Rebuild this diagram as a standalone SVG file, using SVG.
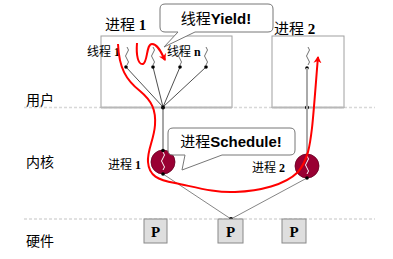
<svg xmlns="http://www.w3.org/2000/svg" width="393" height="259" viewBox="0 0 393 259">
<style>
.cjk{font-family:"Liberation Serif","Noto Sans CJK SC",serif;fill:#000}
.b{font-family:"Liberation Serif",serif;font-weight:bold}
.bs{font-family:"Liberation Sans",Arial,sans-serif;font-weight:bold}
.sep{stroke:#d8d8d8;stroke-width:1.5;stroke-dasharray:3,2;fill:none}
.box{fill:none;stroke:#a0a0a0;stroke-width:1}
.bot{stroke:#b8b8b8;stroke-width:2}
.thin{stroke:#222;stroke-width:0.8;fill:none}
.gl{stroke:#666;stroke-width:0.8;fill:none}
.sq{stroke:#333;stroke-width:0.7;fill:none}
.red{stroke:#ff0000;stroke-width:2;fill:none}
.kt{fill:#990033;stroke:#660022;stroke-width:0.8}
.kw{stroke:#fff;stroke-width:1;fill:none}
.pb{fill:#dedede;stroke:#888;stroke-width:1}
.call{fill:#fff;stroke:#777;stroke-width:1}
</style>
<defs>
<marker id="ah" markerWidth="8" markerHeight="8" refX="6" refY="4" orient="auto" markerUnits="userSpaceOnUse">
<path d="M0,0 L7,4 L0,8 L2,4 Z" fill="#ff0000"/>
</marker>
<path id="sqp" d="M0,0 q3,3 0,6 q-3,3 0,6 q3,3 0,6" />
</defs>
<rect width="393" height="259" fill="#fff"/>

<g id="layers">
<line class="sep" x1="24" y1="107.5" x2="375" y2="107.5"/>
<line class="sep" x1="24" y1="219" x2="375" y2="219"/>
<text class="cjk" x="26" y="105" font-size="14">用户</text>
<text class="cjk" x="26" y="167" font-size="14">内核</text>
<text class="cjk" x="26" y="246" font-size="14">硬件</text>
</g>

<g id="process1">
<rect class="box" x="101" y="36" width="131" height="71.5"/>
<line class="bot" x1="101" y1="107.5" x2="232" y2="107.5"/>
<text class="cjk" x="105" y="30" font-size="15">进程 <tspan class="b">1</tspan></text>
<text class="cjk" x="87" y="56" font-size="12">线程 <tspan class="b">1</tspan></text>
<text class="cjk" x="167" y="56" font-size="12">线程 <tspan class="b">n</tspan></text>
<use href="#sqp" class="sq" x="127" y="47"/>
<use href="#sqp" class="sq" x="153" y="47"/>
<use href="#sqp" class="sq" x="180" y="47"/>
<use href="#sqp" class="sq" x="206" y="47"/>
<line class="thin" x1="126" y1="67" x2="163" y2="107"/>
<line class="thin" x1="153" y1="67" x2="163" y2="107"/>
<line class="thin" x1="180" y1="67" x2="163" y2="107"/>
<line class="thin" x1="206" y1="67" x2="163" y2="107"/>
<circle cx="126" cy="67" r="1.8"/>
<circle cx="153" cy="67" r="1.8"/>
<circle cx="180" cy="67" r="1.8"/>
<circle cx="206" cy="67" r="1.8"/>
<circle cx="163" cy="107.5" r="2"/>
</g>

<g id="process2">
<rect class="box" x="272" y="36" width="72" height="71.5"/>
<line class="bot" x1="272" y1="107.5" x2="344" y2="107.5"/>
<text class="cjk" x="274" y="34" font-size="15">进程 <tspan class="b">2</tspan></text>
<use href="#sqp" class="sq" x="308" y="47"/>
<circle cx="307" cy="68" r="1.8"/>
<circle cx="307" cy="107.5" r="2"/>
</g>

<g id="connectors">
<line class="thin" x1="163" y1="107" x2="163" y2="150"/>
<line x1="307" y1="68" x2="307" y2="154" stroke="#aaa" stroke-width="2"/>
<line class="gl" x1="163" y1="174" x2="231" y2="219"/>
<line class="gl" x1="307" y1="178" x2="231" y2="219"/>
<circle cx="231" cy="219" r="2"/>
</g>

<g id="kthread1">
<circle class="kt" cx="163" cy="162" r="12"/>
<path class="kw" d="M163,152 q3,3 0,6 q-3,3 0,6 q3,3 0,6"/>
<circle cx="163" cy="150.5" r="1.8"/>
<circle cx="163" cy="174" r="1.8"/>
<text class="cjk" x="108" y="169" font-size="12">进程 <tspan class="b">1</tspan></text>
</g>

<g id="kthread2">
<circle class="kt" cx="307" cy="166" r="12"/>
<path class="kw" d="M307,156 q3,3 0,6 q-3,3 0,6 q3,3 0,6"/>
<circle cx="307" cy="178" r="1.8"/>
<text class="cjk" x="252" y="172" font-size="12">进程 <tspan class="b">2</tspan></text>
</g>

<g id="cpu1"><rect class="pb" x="144" y="219" width="23" height="24"/><text class="b" x="155.5" y="237" font-size="15" text-anchor="middle">P</text></g>
<g id="cpu2"><rect class="pb" x="218" y="219" width="25" height="24"/><text class="b" x="230.5" y="237" font-size="15" text-anchor="middle">P</text></g>
<g id="cpu3"><rect class="pb" x="282" y="219" width="24" height="24"/><text class="b" x="294" y="237" font-size="15" text-anchor="middle">P</text></g>

<g id="red-paths">
<path class="red" d="M118,44 C119,68 126,80 140,91 C152,101 156,110 155,125 C154,140 147,150 148,162 C149,176 158,180 175,183 C195,187 215,193 235,192 C260,191 285,185 298,172 C308,160 310,145 312,128 C314,110 316,80 318,57" marker-end="url(#ah)"/>
<path class="red" d="M137,43 C136,55 138,65 143,64 C148,62 146,44 152,44 C158,44 162,54 165,60" marker-end="url(#ah)"/>
</g>

<g id="callout-yield">
<path class="call" d="M165,4 H268 Q273,4 273,9 V27 Q273,32 268,32 H195 L164,47 L178,32 H165 Q160,32 160,27 V9 Q160,4 165,4 Z"/>
<text class="cjk" x="216" y="24" font-size="15" text-anchor="middle">线程<tspan class="bs">Yield!</tspan></text>
</g>

<g id="callout-schedule">
<path class="call" d="M173,128 H290 Q295,128 295,133 V150 Q295,155 290,155 H222 L182,170 L185,155 H173 Q168,155 168,150 V133 Q168,128 173,128 Z"/>
<text class="cjk" x="231" y="147" font-size="15" text-anchor="middle">进程<tspan class="bs">Schedule!</tspan></text>
</g>
</svg>
